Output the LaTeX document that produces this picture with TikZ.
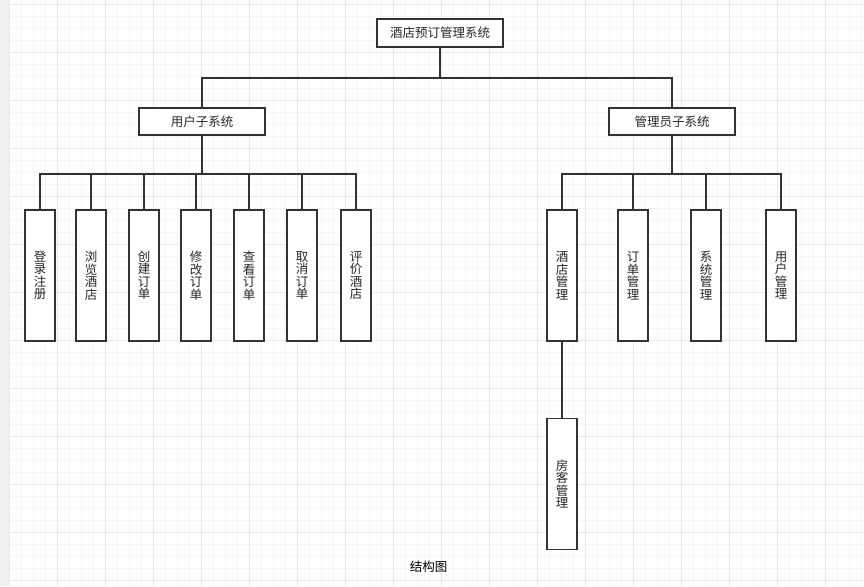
\documentclass[tikz,border=0pt]{standalone}
\usepackage{fontspec}
\setmainfont{Noto Sans CJK SC}
\usetikzlibrary{positioning, calc}

\tikzset{
  box/.style={draw=black!80, line width=1.6pt, fill=white, rectangle, inner sep=0pt, text=black!85},
  subbox/.style={box, minimum width=126pt, minimum height=27pt},
  leafbox/.style={box, minimum width=30pt, minimum height=131pt, align=center},
  link/.style={draw=black!80, line width=1.6pt},
}

\begin{document}
\begin{tikzpicture}[x=1pt, y=1pt, font=\fontsize{12.5}{12.5}\selectfont]
    \useasboundingbox (0,0) rectangle (864,-586);
    % background grid
    \fill[black!6] (0,0) rectangle (864,-586);
    \fill[white] (9,0) rectangle (864,-586);
    \foreach \gx in {0,...,71} \draw[black!4, line width=0.6pt] ({9+12*\gx},0) -- ({9+12*\gx},-586);
    \foreach \gy in {0,...,48} \draw[black!4, line width=0.6pt] (9,{-4-12*\gy}) -- (864,{-4-12*\gy});
    \foreach \gx in {0,...,17} \draw[black!9, line width=0.6pt] ({9+48*\gx},0) -- ({9+48*\gx},-586);
    \foreach \gy in {0,...,12} \draw[black!9, line width=0.6pt] (9,{-4-48*\gy}) -- (864,{-4-48*\gy});

    \node[box, minimum width=126pt, minimum height=28pt] (root) at (440,-33) {酒店预订管理系统};
    \node[subbox] (user) at (202,-121.5) {用户子系统};
    \node[subbox, right=342.4pt of user] (admin) {管理员子系统};

    \foreach \x/\t [count=\i] in {40/{登\\录\\注\\册}, 91/{浏\\览\\酒\\店}, 144/{创\\建\\订\\单},
        196/{修\\改\\订\\单}, 249/{查\\看\\订\\单}, 302/{取\\消\\订\\单}, 356/{评\\价\\酒\\店}}
        \node[leafbox] (u\i) at (\x,-275.5) {\t};

    \foreach \x/\t [count=\i] in {562/{酒\\店\\管\\理}, 633/{订\\单\\管\\理},
        706/{系\\统\\管\\理}, 781/{用\\户\\管\\理}}
        \node[leafbox] (a\i) at (\x,-275.5) {\t};

    \node[leafbox, below=76pt of a1] (guest) {房\\客\\管\\理};

    \node (caption) at (428.5,-567) {结构图};

    \draw[link] (root.south) -- ++(0,-30) -| (user.north);
    \draw[link] (root.south) -- ++(0,-30) -| (admin.north);
    \foreach \i in {1,...,7} \draw[link] (user.south) -- ++(0,-38) -| (u\i.north);
    \foreach \i in {1,...,4} \draw[link] (admin.south) -- ++(0,-38) -| (a\i.north);
    \draw[link] (a1.south) -- (guest.north);
\end{tikzpicture}
\end{document}
